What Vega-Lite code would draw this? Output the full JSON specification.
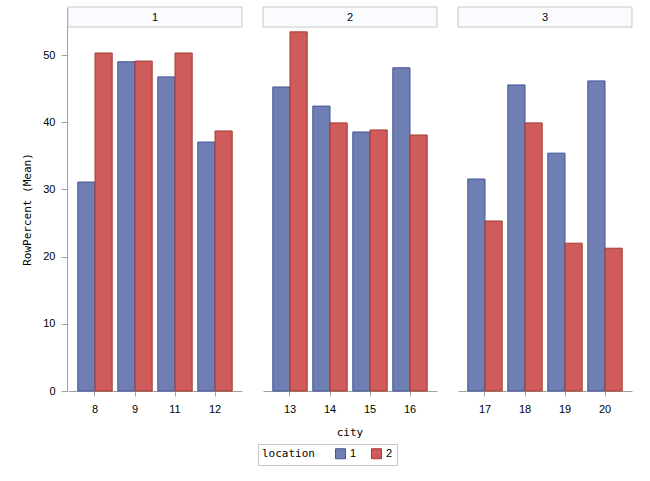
{
  "$schema": "https://vega.github.io/schema/vega-lite/v6.json",
  "background": "white",
  "padding": {"left": 21, "top": 6, "right": 5, "bottom": 5},
  "data": {
    "values": [
      {"group": 1, "city": 8, "location": 1, "RowPercent": 31.1},
      {"group": 1, "city": 8, "location": 2, "RowPercent": 50.3},
      {"group": 1, "city": 9, "location": 1, "RowPercent": 49.0},
      {"group": 1, "city": 9, "location": 2, "RowPercent": 49.1},
      {"group": 1, "city": 11, "location": 1, "RowPercent": 46.75},
      {"group": 1, "city": 11, "location": 2, "RowPercent": 50.3},
      {"group": 1, "city": 12, "location": 1, "RowPercent": 37.05},
      {"group": 1, "city": 12, "location": 2, "RowPercent": 38.7},
      {"group": 2, "city": 13, "location": 1, "RowPercent": 45.25},
      {"group": 2, "city": 13, "location": 2, "RowPercent": 53.45},
      {"group": 2, "city": 14, "location": 1, "RowPercent": 42.4},
      {"group": 2, "city": 14, "location": 2, "RowPercent": 39.9},
      {"group": 2, "city": 15, "location": 1, "RowPercent": 38.55},
      {"group": 2, "city": 15, "location": 2, "RowPercent": 38.85},
      {"group": 2, "city": 16, "location": 1, "RowPercent": 48.1},
      {"group": 2, "city": 16, "location": 2, "RowPercent": 38.1},
      {"group": 3, "city": 17, "location": 1, "RowPercent": 31.55},
      {"group": 3, "city": 17, "location": 2, "RowPercent": 25.3},
      {"group": 3, "city": 18, "location": 1, "RowPercent": 45.55},
      {"group": 3, "city": 18, "location": 2, "RowPercent": 39.9},
      {"group": 3, "city": 19, "location": 1, "RowPercent": 35.4},
      {"group": 3, "city": 19, "location": 2, "RowPercent": 22.0},
      {"group": 3, "city": 20, "location": 1, "RowPercent": 46.15},
      {"group": 3, "city": 20, "location": 2, "RowPercent": 21.25}
    ]
  },
  "facet": {
    "column": {
      "field": "group",
      "type": "ordinal",
      "title": "city",
      "header": {
        "titleOrient": "bottom",
        "labelOrient": "top",
        "labelPadding": -17,
        "titlePadding": 3
      }
    }
  },
  "spacing": {"column": 19},
  "resolve": {"scale": {"x": "independent", "xOffset": "independent"}},
  "spec": {
    "width": 174,
    "height": 384,
    "layer": [
      {
        "transform": [
          {"filter": "datum.location == 1 && (datum.city == 8 || datum.city == 13 || datum.city == 17)"}
        ],
        "mark": {"type": "rect", "fill": "#6080f0", "fillOpacity": 0.035, "stroke": "#c8c8c8", "strokeWidth": 1},
        "encoding": {
          "y": {"datum": 54.17, "type": "quantitative"},
          "y2": {"datum": 57.15}
        }
      },
      {
        "mark": {"type": "bar", "strokeWidth": 1},
        "encoding": {
          "x": {
            "field": "city",
            "type": "ordinal",
            "scale": {"paddingInner": 0.14, "paddingOuter": 0.245},
            "axis": {"title": null, "labelAngle": 0}
          },
          "xOffset": {
            "field": "location",
            "type": "nominal",
            "scale": {"paddingInner": 0, "paddingOuter": 0}
          },
          "y": {
            "field": "RowPercent",
            "type": "quantitative",
            "title": "RowPercent (Mean)",
            "scale": {"domain": [0, 57.15], "nice": false, "zero": true},
            "axis": {"values": [0, 10, 20, 30, 40, 50], "tickSize": 6, "labelPadding": 6, "titlePadding": 10, "titleY": 202}
          },
          "fill": {
            "field": "location",
            "type": "nominal",
            "scale": {"range": ["#6F7EB3", "#D05B5B"]},
            "legend": {"title": "location"}
          },
          "stroke": {
            "field": "location",
            "type": "nominal",
            "scale": {"range": ["#445694", "#A23A2E"]},
            "legend": {"title": "location"}
          }
        }
      }
    ]
  },
  "config": {
    "view": {"stroke": null},
    "font": "Liberation Sans",
    "axis": {
      "grid": false,
      "domainColor": "#a0a0a0",
      "tickColor": "#a0a0a0",
      "tickSize": 5,
      "labelFont": "Liberation Sans",
      "labelFontSize": 11,
      "labelColor": "#000000",
      "labelPadding": 7,
      "titleFont": "DejaVu Sans Mono",
      "titleFontSize": 11,
      "titleFontWeight": "normal",
      "titleColor": "#000000"
    },
    "header": {
      "labelFont": "Liberation Sans",
      "labelFontSize": 11,
      "labelColor": "#000000",
      "titleFont": "DejaVu Sans Mono",
      "titleFontSize": 11,
      "titleFontWeight": "normal",
      "titleColor": "#000000"
    },
    "legend": {
      "orient": "bottom",
      "direction": "horizontal",
      "titleOrient": "left",
      "strokeColor": "#c8c8c8",
      "padding": 4,
      "symbolType": "square",
      "symbolSize": 100,
      "symbolStrokeWidth": 1,
      "labelFont": "Liberation Sans",
      "labelFontSize": 11,
      "labelColor": "#000000",
      "titleFont": "DejaVu Sans Mono",
      "titleFontSize": 11,
      "titleFontWeight": "normal",
      "titleColor": "#000000",
      "titlePadding": 20,
      "columnPadding": 12,
      "labelOffset": 4,
      "offset": 6,
      "layout": {"bottom": {"anchor": "middle"}}
    }
  }
}
